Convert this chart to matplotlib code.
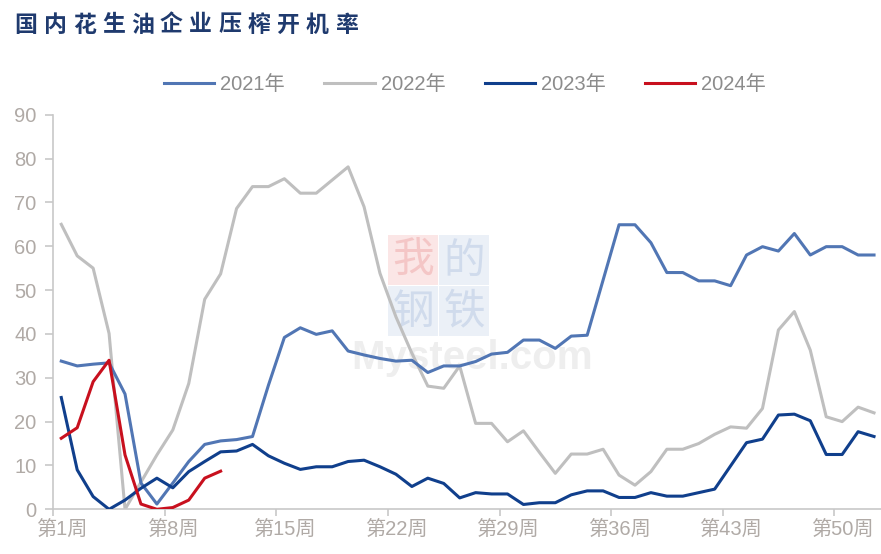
#!/usr/bin/env python
# -*- coding: utf8 -*-
"""Peanut oil crushing operating rate, weekly, 2021-2024"""

import numpy as np
import matplotlib
matplotlib.use("Agg")
import matplotlib.pyplot as plt
from matplotlib.patches import Rectangle

plt.rcParams['font.family'] = ['Liberation Sans', 'Noto Sans CJK SC', 'DejaVu Sans']

TITLE = "国内花生油企业压榨开机率"

weeks_2021 = np.arange(1, 53)
rate_2021 = [33.8, 32.7, 33.1, 33.4, 26.3, 6.0, 1.2, 6.0, 10.9, 14.8,
             15.6, 15.9, 16.6, 28.3, 39.2, 41.4, 39.9, 40.7, 36.1, 35.2,
             34.4, 33.8, 34.0, 31.2, 32.7, 32.7, 33.7, 35.4, 35.8, 38.6,
             38.6, 36.7, 39.5, 39.7, 52.3, 64.9, 64.9, 60.8, 54.0, 54.0,
             52.1, 52.1, 51.0, 58.0, 59.9, 58.9, 62.9, 58.0, 59.9, 59.9,
             58.0, 58.0]

weeks_2022 = np.arange(1, 53)
rate_2022 = [65.0, 57.8, 55.0, 40.1, 0.0, 6.2, 12.4, 18.1, 28.7, 47.9,
             53.7, 68.6, 73.6, 73.6, 75.4, 72.1, 72.1, 75.1, 78.1, 69.0,
             53.8, 43.9, 35.6, 28.1, 27.6, 32.7, 19.6, 19.6, 15.4, 17.9,
             13.0, 8.2, 12.6, 12.6, 13.7, 7.8, 5.5, 8.6, 13.7, 13.7,
             15.0, 17.1, 18.8, 18.5, 23.0, 40.9, 45.1, 36.3, 21.1, 20.0,
             23.3, 22.0]

weeks_2023 = np.arange(1, 53)
rate_2023 = [25.5, 9.0, 2.9, 0.0, 2.1, 4.8, 7.1, 4.9, 8.6, 10.9,
             13.1, 13.3, 14.8, 12.2, 10.5, 9.1, 9.7, 9.7, 10.9, 11.2,
             9.7, 8.0, 5.2, 7.1, 5.9, 2.6, 3.8, 3.5, 3.5, 1.1,
             1.5, 1.5, 3.3, 4.2, 4.2, 2.7, 2.7, 3.8, 3.0, 3.0,
             3.8, 4.6, 9.9, 15.2, 16.0, 21.5, 21.7, 20.2, 12.5, 12.5,
             17.7, 16.6]

weeks_2024 = np.arange(1, 12)
rate_2024 = [16.2, 18.6, 29.1, 34.0, 12.4, 1.2, 0.0, 0.4, 2.1, 7.1, 8.7]

tick_weeks = [1, 8, 15, 22, 29, 36, 43, 50]
tick_labels = [f"第{w}周" for w in tick_weeks]

W, H = 881, 554


def px(x):
    return x / W


def py(y):
    return 1 - y / H


def main() -> None:
    """Do the job"""
    fig = plt.figure(figsize=(W / 100, H / 100), dpi=100)
    ax = fig.add_axes([px(53.3), py(509.3), px(828.7), (509.3 - 114.7) / H])

    # watermark
    cells = [(388, 235, "我", "#fbe6e6", "#f4c6c6"),
             (439, 235, "的", "#ebf0f7", "#d0dbec"),
             (388, 286, "钢", "#ebf0f7", "#d0dbec"),
             (439, 286, "铁", "#ebf0f7", "#d0dbec")]
    for cx, cy, ch, bg, fg in cells:
        ax.add_patch(Rectangle((px(cx), py(cy + 50)), px(50), 50 / H,
                               transform=fig.transFigure, facecolor=bg,
                               edgecolor="none", zorder=0.5, clip_on=False))
        ax.text(px(cx + 25), py(cy + 26), ch, transform=fig.transFigure,
                fontsize=30, color=fg, ha="center", va="center",
                family=['Noto Sans CJK SC'], zorder=0.6)
    ax.text(px(472), py(358), "Mysteel.com", transform=fig.transFigure,
            fontsize=29, fontweight="bold", color="#eeeeee",
            ha="center", va="center", zorder=0.7)

    ax.plot(weeks_2021, rate_2021, color="#5176b4", lw=2.2, label="2021年", zorder=3)
    ax.plot(weeks_2022, rate_2022, color="#bfbfbf", lw=2.2, label="2022年", zorder=2)
    ax.plot(weeks_2023, rate_2023, color="#103f8c", lw=2.2, label="2023年", zorder=4)
    ax.plot(weeks_2024, rate_2024, color="#c8101e", lw=2.2, label="2024年", zorder=5)

    ax.set_xlim(0.5, 52.5)
    ax.set_ylim(0, 90)
    ax.set_yticks(range(0, 91, 10))
    ax.set_xticks(tick_weeks)
    ax.set_xticklabels(tick_labels)
    ax.set_xticks(np.array(tick_weeks) - 0.5, minor=True)

    for side in ("top", "right"):
        ax.spines[side].set_visible(False)
    for side in ("left", "bottom"):
        ax.spines[side].set_color("#c8c8c8")
        ax.spines[side].set_linewidth(1.2)

    ax.tick_params(axis="y", which="major", length=6, width=1.2, color="#c8c8c8",
                   labelcolor="#b0aaa6", labelsize=14.5, pad=6)
    ax.tick_params(axis="x", which="major", length=0, labelcolor="#b0aaa6",
                   labelsize=14.5, pad=8)
    ax.tick_params(axis="x", which="minor", length=5, width=1.2, color="#c8c8c8")

    ax.legend(loc="center", bbox_to_anchor=(px(465), py(85)),
              bbox_transform=fig.transFigure, ncol=4, frameon=False,
              fontsize=14.5, labelcolor="#8c8c8c", handlelength=2.5,
              handletextpad=0.3, columnspacing=1.95)

    for i, ch in enumerate(TITLE):
        fig.text(px(26 + i * 29.1), py(25), ch, fontsize=16.5, fontweight="bold",
                 color="#1f3a6e", ha="center", va="center",
                 family=['Noto Sans CJK SC'])

    fig.savefig("out.png", dpi=100)


if __name__ == "__main__":
    main()
